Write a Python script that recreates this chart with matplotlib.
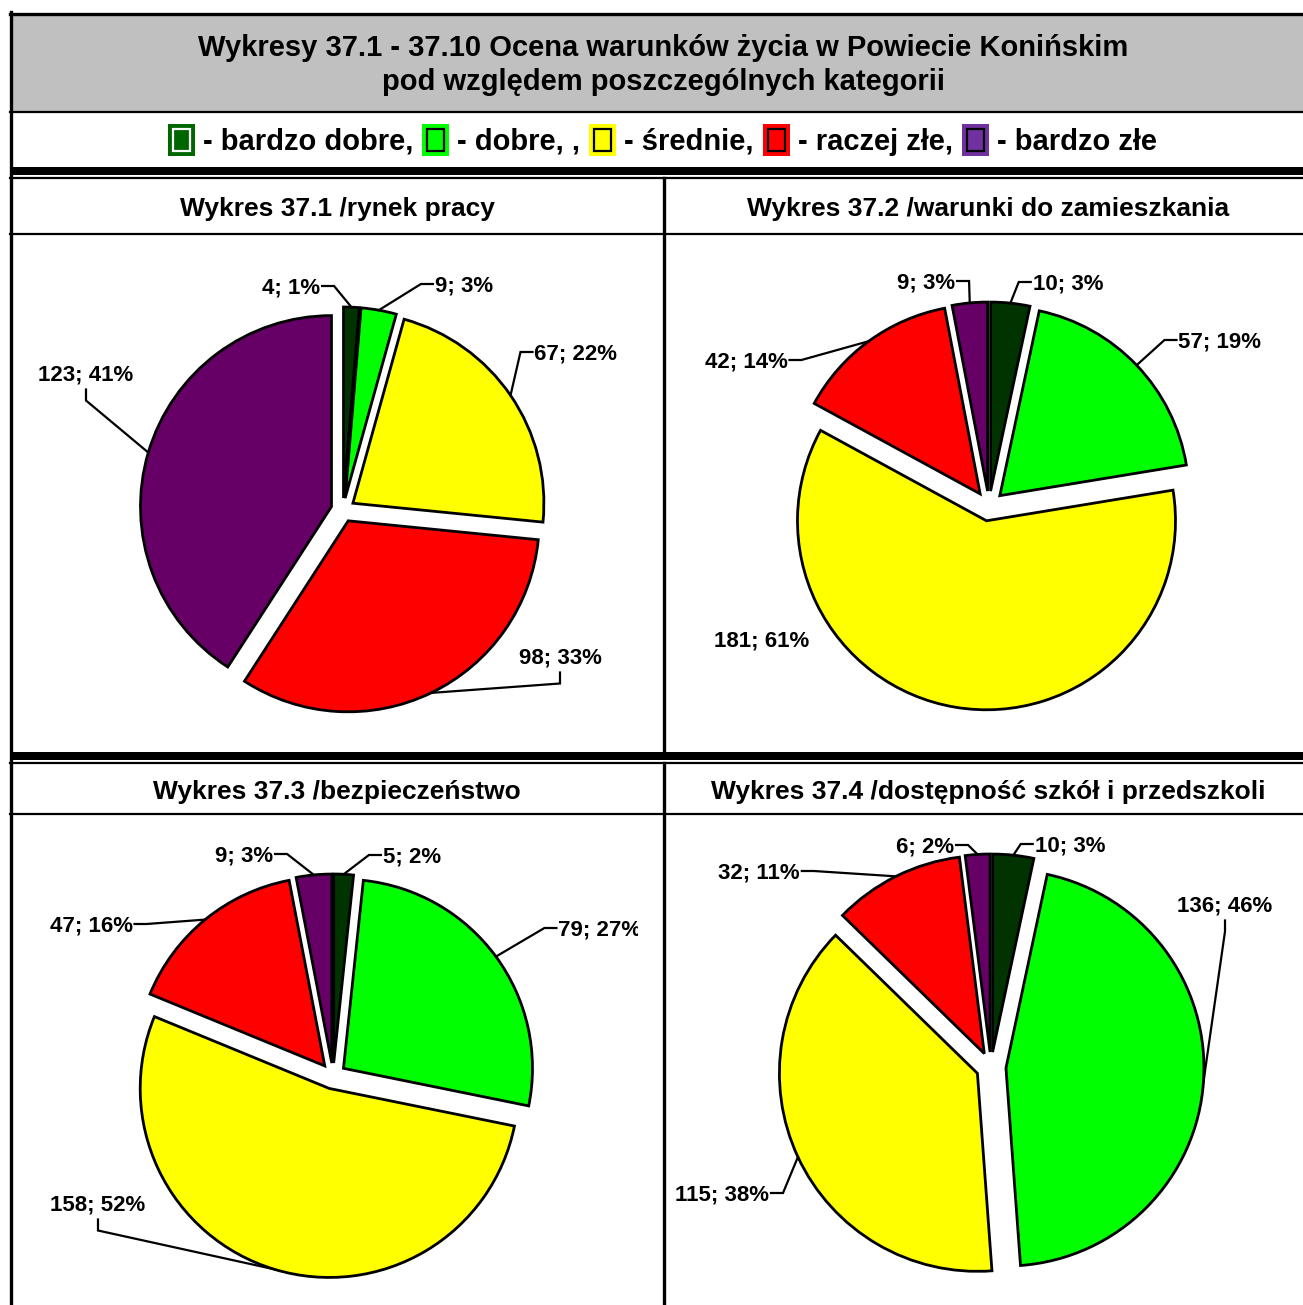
import numpy as np
import matplotlib.pyplot as plt
from matplotlib.patches import Rectangle
from matplotlib.transforms import Bbox, TransformedBbox

plt.rcParams['font.family'] = ['Liberation Sans', 'DejaVu Sans']

W, H = 1303, 1305

# categories in the order Excel draws them (clockwise from 12 o'clock)
categories = ['bardzo dobre', 'dobre', 'średnie', 'raczej złe', 'bardzo złe']
slice_colors = ['#003300', '#00FF00', '#FFFF00', '#FF0000', '#660066']
legend_colors = ['#006600', '#00FF00', '#FFFF00', '#FF0000', '#7030A0']
legend_texts = ['- bardzo dobre,', '- dobre, ,', '- średnie,', '- raczej złe,', '- bardzo złe']

title_lines = ['Wykresy 37.1 - 37.10 Ocena warunków życia w Powiecie Konińskim',
               'pod względem poszczególnych kategorii']
panel_titles = ['Wykres 37.1 /rynek pracy',
                'Wykres 37.2 /warunki do zamieszkania',
                'Wykres 37.3 /bezpieczeństwo',
                'Wykres 37.4 /dostępność szkół i przedszkoli']

# counts and percentages as printed on the chart
values_1 = [4, 9, 67, 98, 123]
pcts_1 = [1, 3, 22, 33, 41]
values_2 = [10, 57, 181, 42, 9]
pcts_2 = [3, 19, 61, 14, 3]
values_3 = [5, 79, 158, 47, 9]
pcts_3 = [2, 27, 52, 16, 3]
values_4 = [10, 136, 115, 32, 6]
pcts_4 = [3, 46, 38, 11, 2]

# layout (image pixels): pie centre, radius, explode distance, clip area
pie_layout = [
    dict(c=(343, 510), r=191, ex=12, clip=(13, 236, 638, 752)),
    dict(c=(989, 506), r=189, ex=15, clip=(666, 236, 1303, 752)),
    dict(c=(333, 1076), r=189, ex=13, clip=(13, 816, 638, 1305)),
    dict(c=(991, 1067), r=198, ex=15, clip=(666, 816, 1303, 1305)),
]
# label centres (image pixels) and side where the leader line leaves the text
label_layout = [
    [((291, 286), 'r'), ((464, 284), 'l'), ((576, 352), 'l'), ((560, 656), 'b'), ((86, 373), 'b')],
    [((1068, 282), 'l'), ((1220, 340), 'l'), ((762, 639), None), ((746, 360), 'r'), ((926, 281), 'r')],
    [((412, 855), 'l'), ((600, 928), 'l'), ((98, 1203), 'b'), ((91, 924), 'r'), ((244, 854), 'r')],
    [((1070, 844), 'l'), ((1225, 904), 'b'), ((722, 1193), 'r'), ((759, 871), 'r'), ((925, 845), 'r')],
]


def Y(y):
    return H - y


fig = plt.figure(figsize=(W / 100, H / 100), dpi=100)
ax = fig.add_axes([0, 0, 1, 1])
ax.set_xlim(0, W)
ax.set_ylim(0, H)
ax.set_autoscale_on(False)

# header background
ax.add_patch(Rectangle((12, Y(112)), W - 12, 97, facecolor='#C0C0C0', edgecolor='none'))
ax.text(663, Y(48), title_lines[0], ha='center', va='center', fontsize=21, weight='bold')
ax.text(663, Y(82), title_lines[1], ha='center', va='center', fontsize=21, weight='bold')

# frame lines
ax.plot([11, 11], [Y(12), 0], color='black', lw=2.4)
ax.plot([10, W], [Y(13.5), Y(13.5)], color='black', lw=2.4)
ax.plot([10, W], [Y(112), Y(112)], color='black', lw=1.6)
ax.add_patch(Rectangle((10, Y(175)), W - 10, 8, facecolor='black', edgecolor='none'))
ax.plot([10, W], [Y(178), Y(178)], color='black', lw=1.6)
ax.plot([10, W], [Y(234), Y(234)], color='black', lw=1.6)
ax.plot([664, 664], [Y(178), Y(752)], color='black', lw=2.4)
ax.add_patch(Rectangle((10, Y(760)), W - 10, 8, facecolor='black', edgecolor='none'))
ax.plot([10, W], [Y(763), Y(763)], color='black', lw=1.6)
ax.plot([10, W], [Y(814), Y(814)], color='black', lw=1.6)
ax.plot([664, 664], [Y(763), 0], color='black', lw=2.4)

# panel titles
title_pos = [(337, 209), (988, 209), (337, 792), (988, 792)]
for (tx, ty), t in zip(title_pos, panel_titles):
    ax.text(tx, Y(ty), t, ha='center', va='center', fontsize=19, weight='bold')

renderer = fig.canvas.get_renderer()

# legend row built left to right
x = 168
for col, txt in zip(legend_colors, legend_texts):
    ax.add_patch(Rectangle((x, Y(156)), 27, 32, facecolor=col, edgecolor='none'))
    inner = 'white' if col == '#006600' else 'black'
    ax.add_patch(Rectangle((x + 5, Y(151)), 17, 22, facecolor=col, edgecolor=inner, lw=1.6))
    t = ax.text(x + 35, Y(142), txt, ha='left', va='center', fontsize=21, weight='bold')
    bb = t.get_window_extent(renderer)
    x = bb.x1 + 9

all_values = [values_1, values_2, values_3, values_4]
all_pcts = [pcts_1, pcts_2, pcts_3, pcts_4]

for vals, pcts, lay, labs in zip(all_values, all_pcts, pie_layout, label_layout):
    cx, cy = lay['c']
    wedges, _ = ax.pie(vals, colors=slice_colors, startangle=90, counterclock=False,
                       center=(cx, Y(cy)), radius=lay['r'], explode=[lay['ex']] * len(vals),
                       wedgeprops=dict(edgecolor='black', linewidth=2.0), frame=True)
    ax.set_xlim(0, W)
    ax.set_ylim(0, H)
    x0, y0, x1, y1 = lay['clip']
    clip = TransformedBbox(Bbox.from_extents(x0, Y(y1), x1, Y(y0)), ax.transData)
    for w, v, p, ((lx, ly), side) in zip(wedges, vals, pcts, labs):
        t = ax.text(lx, Y(ly + 2), f'{v}; {p}%', ha='center', va='center', fontsize=16, weight='bold')
        t.set_clip_box(clip)
        t.set_clip_on(True)
        if side is None:
            continue
        bb = t.get_window_extent(renderer)
        mid = np.deg2rad((w.theta1 + w.theta2) / 2)
        ax_, ay_ = w.center[0] + w.r * np.cos(mid), w.center[1] + w.r * np.sin(mid)
        if side == 'r':
            pts = [(bb.x1 + 2, Y(ly)), (bb.x1 + 14, Y(ly))]
        elif side == 'l':
            pts = [(bb.x0 - 2, Y(ly)), (bb.x0 - 14, Y(ly))]
        else:
            pts = [(lx, bb.y0 - 4), (lx, bb.y0 - 15)]
        pts.append((ax_, ay_))
        xs, ys = zip(*pts)
        ax.plot(xs, ys, color='black', lw=1.6, solid_joinstyle='miter')

ax.set_xlim(0, W)
ax.set_ylim(0, H)
ax.set_aspect('auto')
ax.axis('off')

fig.savefig('out.png', dpi=100, facecolor='white')
